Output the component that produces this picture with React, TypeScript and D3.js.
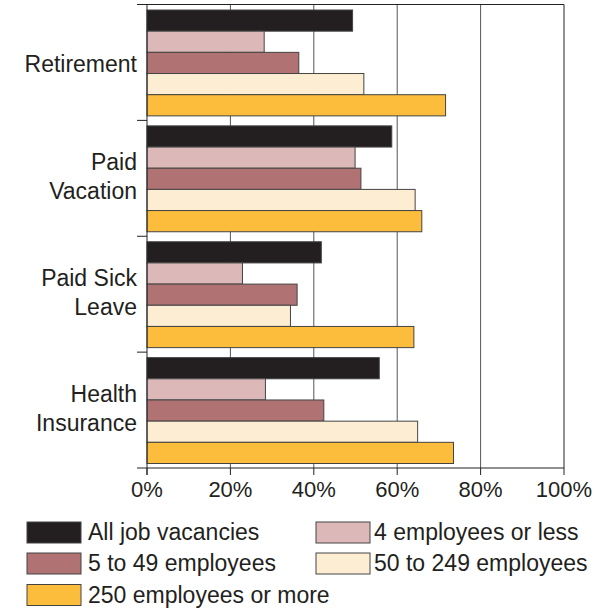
import React, { useEffect } from 'react';
import * as d3 from 'd3';

// Categories (top to bottom), each label split into lines
const categories: string[] = ['Retirement', 'Paid Vacation', 'Paid Sick Leave', 'Health Insurance'];
const categoryLines: string[][] = [['Retirement'], ['Paid', 'Vacation'], ['Paid Sick', 'Leave'], ['Health', 'Insurance']];

const seriesNames: string[] = [
    'All job vacancies',
    '4 employees or less',
    '5 to 49 employees',
    '50 to 249 employees',
    '250 employees or more'
];

// Values in %, one array per series, in category order
const allVacancies: number[] = [49.3, 58.7, 41.8, 55.7];
const fourOrLess: number[] = [28.1, 49.9, 22.9, 28.4];
const fiveTo49: number[] = [36.4, 51.3, 36.0, 42.4];
const fiftyTo249: number[] = [52.0, 64.3, 34.4, 64.9];
const over250: number[] = [71.6, 65.9, 64.0, 73.5];

const seriesValues: number[][] = [allVacancies, fourOrLess, fiveTo49, fiftyTo249, over250];
const seriesColors: string[] = ['#231f20', '#dcb8b8', '#b07272', '#fdeed3', '#fbbd3b'];

const xTicks: number[] = [0, 20, 40, 60, 80, 100];

const FONT = '"Liberation Sans", Arial, Helvetica, sans-serif';

export default function App() {
    useEffect(() => {
        document.body.style.margin = '0';
    }, []);

    const width = 609;
    const height = 609;
    const left = 147;
    const right = 564;
    const top = 4.5;
    const bottom = 468;

    const x = d3.scaleLinear().domain([0, 100]).range([left, right]);
    const y = d3.scaleBand<string>().domain(categories).range([top, bottom]).padding(0);
    const inner = d3
        .scaleBand<string>()
        .domain(seriesNames)
        .range([5.5, y.bandwidth() - 4.5])
        .padding(0);

    const stroke = '#444';

    // legend layout: two columns, three rows
    const legendCols = [27, 316];
    const legendRows = [522, 553, 584.5];

    return (
        <svg width={width} height={height} style={{ display: 'block', background: 'white' }} fontFamily={FONT}>
            {/* vertical gridlines */}
            {xTicks.slice(1).map((t) => (
                <line key={t} x1={x(t)} x2={x(t)} y1={top} y2={bottom} stroke={t === 100 ? '#222' : '#555'} strokeWidth={1} />
            ))}
            {/* top frame */}
            <line x1={left - 10} x2={right} y1={top} y2={top} stroke="#222" strokeWidth={1} />

            {/* bars */}
            {categories.map((c, ci) => (
                <g key={c} transform={`translate(0,${y(c)})`}>
                    {seriesNames.map((s, si) => (
                        <rect
                            key={s}
                            x={x(0)}
                            y={inner(s)!}
                            width={x(seriesValues[si][ci]) - x(0)}
                            height={inner.bandwidth()}
                            fill={seriesColors[si]}
                            stroke={stroke}
                            strokeWidth={1}
                        />
                    ))}
                </g>
            ))}

            {/* left axis */}
            <line x1={left} x2={left} y1={top} y2={bottom + 7} stroke="#222" strokeWidth={1} />
            {categories.slice(1).map((c) => (
                <line key={c} x1={left - 10} x2={left} y1={y(c)!} y2={y(c)!} stroke="#222" strokeWidth={1} />
            ))}

            {/* bottom axis */}
            <line x1={left - 10} x2={right} y1={bottom} y2={bottom} stroke="#222" strokeWidth={1} />
            {xTicks.map((t) => (
                <g key={t}>
                    <line x1={x(t)} x2={x(t)} y1={bottom} y2={bottom + 7} stroke="#222" strokeWidth={1} />
                    <text x={x(t)} y={497} textAnchor="middle" fontSize={22} fill="#231f20">
                        {t}%
                    </text>
                </g>
            ))}

            {/* category labels */}
            {categories.map((c, ci) => {
                const cy = y(c)! + y.bandwidth() / 2;
                const lines = categoryLines[ci];
                return (
                    <text key={c} textAnchor="end" fontSize={23} fill="#231f20">
                        {lines.length === 1 ? (
                            <tspan x={137} y={cy + 10}>
                                {lines[0]}
                            </tspan>
                        ) : (
                            lines.map((l, li) => (
                                <tspan key={l} x={137} y={cy - 8 + li * 28.5}>
                                    {l}
                                </tspan>
                            ))
                        )}
                    </text>
                );
            })}

            {/* legend */}
            {seriesNames.map((s, si) => {
                const lx = legendCols[si % 2];
                const ly = legendRows[Math.floor(si / 2)];
                return (
                    <g key={s} transform={`translate(${lx},${ly})`}>
                        <rect x={0} y={0} width={54} height={21} fill={seriesColors[si]} stroke={stroke} strokeWidth={1} />
                        <text x={si % 2 === 0 ? 61 : 58} y={18} fontSize={23} fill="#231f20">
                            {s}
                        </text>
                    </g>
                );
            })}
        </svg>
    );
}
